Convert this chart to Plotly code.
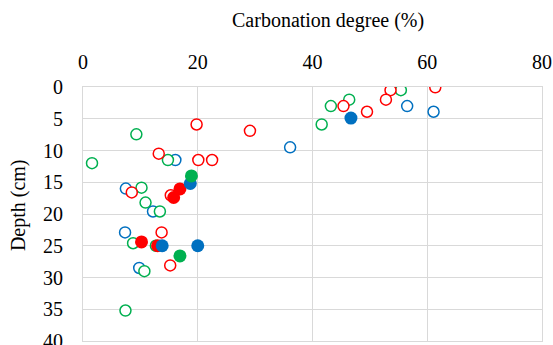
import plotly.graph_objects as go

# Open markers
blue_open_x = [56.5, 61.1, 36.1, 16.1, 7.47, 12.2, 7.33, 9.8]
blue_open_y = [3.0, 3.9, 9.5, 11.5, 16.0, 19.6, 22.9, 28.5]

green_open_x = [55.4, 46.4, 43.2, 41.6, 9.3, 1.57, 14.8, 10.2, 10.9, 13.4, 8.73, 12.7, 10.7, 7.4]
green_open_y = [0.5, 2.0, 3.0, 5.9, 7.45, 12.0, 11.5, 15.85, 18.2, 19.6, 24.6, 25.0, 29.0, 35.2]

red_open_x = [61.4, 53.6, 52.8, 45.4, 49.5, 19.8, 29.1, 13.2, 20.1, 22.5, 8.5, 15.3, 13.7, 15.2]
red_open_y = [0.05, 0.5, 2.0, 3.0, 3.9, 5.9, 6.9, 10.5, 11.5, 11.5, 16.6, 17.05, 22.9, 28.1]

# Filled markers
red_fill_x = [16.9, 15.8, 10.2, 13.0]
red_fill_y = [16.05, 17.4, 24.4, 25.0]

blue_fill_x = [46.7, 18.7, 13.8, 20.0]
blue_fill_y = [4.9, 15.2, 25.0, 25.0]

green_fill_x = [18.9, 16.9]
green_fill_y = [14.0, 26.6]

x_title = "Carbonation degree (%)"
y_title = "Depth (cm)"

RED = "#FF0000"
GREEN = "#00B050"
BLUE = "#0070C0"

fig = go.Figure()

def open_trace(x, y, c):
    fig.add_trace(go.Scatter(x=x, y=y, mode="markers",
                             marker=dict(size=11, color="white", line=dict(color=c, width=1.5)),
                             showlegend=False))

def fill_trace(x, y, c):
    fig.add_trace(go.Scatter(x=x, y=y, mode="markers",
                             marker=dict(size=13, color=c, line=dict(width=0)),
                             showlegend=False))

open_trace(blue_open_x, blue_open_y, BLUE)
open_trace(green_open_x, green_open_y, GREEN)
open_trace(red_open_x, red_open_y, RED)
fill_trace(red_fill_x, red_fill_y, RED)
fill_trace(blue_fill_x, blue_fill_y, BLUE)
fill_trace(green_fill_x, green_fill_y, GREEN)

font = dict(family="Liberation Serif", size=20, color="#000000")

fig.update_layout(
    width=553, height=345,
    margin=dict(l=83, r=11, t=87, b=4, autoexpand=False),
    paper_bgcolor="white", plot_bgcolor="white",
    font=font,
    xaxis=dict(side="top", range=[0, 80], tick0=0, dtick=20,
               showgrid=True, gridcolor="#D9D9D9", gridwidth=1,
               zeroline=False, showline=True, linecolor="#D9D9D9", mirror=True,
               ticks="", ticklabelstandoff=9, ticklabeloverflow="allow",
               automargin=False, tickfont=font),
    yaxis=dict(range=[40, 0], tick0=0, dtick=5,
               showgrid=True, gridcolor="#D9D9D9", gridwidth=1,
               zeroline=False, showline=True, linecolor="#D9D9D9", mirror=True,
               ticks="", ticklabelstandoff=15, ticklabeloverflow="allow",
               automargin=False, tickfont=font),
    annotations=[
        dict(text=x_title, xref="paper", yref="paper", x=0.534, y=1,
             xanchor="center", yanchor="middle", yshift=67, showarrow=False, font=font),
        dict(text=y_title, xref="paper", yref="paper", x=0, y=0.535,
             xanchor="center", yanchor="middle", xshift=-65, textangle=-90,
             showarrow=False, font=font),
    ],
)

fig.write_html("out.html")
